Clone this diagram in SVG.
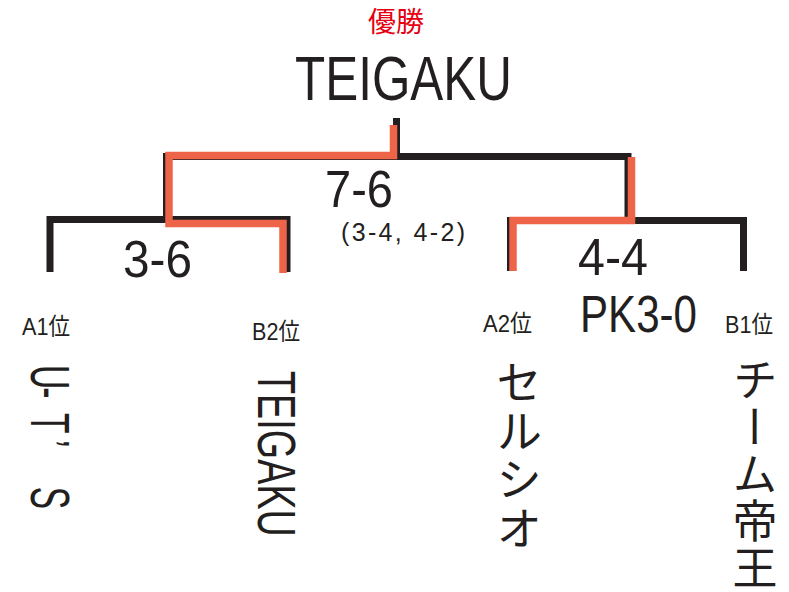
<svg xmlns="http://www.w3.org/2000/svg" width="789" height="592" viewBox="0 0 789 592">
<style>
.lat{font-family:"Liberation Sans","Noto Sans CJK JP",Arial,sans-serif;fill:#231f20}
.cjk{font-family:"Noto Sans CJK JP","Noto Sans CJK SC",sans-serif;fill:#231f20}
.blk{fill:none;stroke:#231f20;stroke-width:7;stroke-linejoin:miter;stroke-linecap:butt}
.org{fill:none;stroke:#ee6449;stroke-width:7.5;stroke-linejoin:miter;stroke-linecap:butt}
.vert{writing-mode:vertical-rl;text-orientation:upright}
</style>
<rect width="789" height="592" fill="#ffffff"/>
<g id="connectors">
  <path class="blk" d="M50,272 V219.5 H287 V272"/>
  <path class="blk" d="M510.5,271 V220.5 H743.5 V271"/>
  <path class="blk" d="M166.5,220 V156.5 H628 V221"/>
  <path class="blk" d="M396.5,118 V157"/>
  <path class="org" d="M283,273 V223.5 H169 V155.5 H393.5 V125"/>
  <path class="org" d="M513,271 V220.5 H631.5 V157"/>
</g>
<g id="champion">
  <text x="396" y="32" text-anchor="middle" class="cjk" style="fill:#e60012" font-size="28">優勝</text>
  <text x="295" y="100" class="lat" font-size="63" textLength="217" lengthAdjust="spacingAndGlyphs">TEIGAKU</text>
</g>
<g id="score-final">
  <text x="325" y="207" class="lat" font-size="52" textLength="68" lengthAdjust="spacingAndGlyphs">7-6</text>
  <text x="341" y="241" class="lat" font-size="25" textLength="124" lengthAdjust="spacing">(3-4, 4-2)</text>
</g>
<g id="score-left">
  <text x="123" y="277" class="lat" font-size="52" textLength="69" lengthAdjust="spacingAndGlyphs">3-6</text>
</g>
<g id="score-right">
  <text x="578" y="275" class="lat" font-size="52" textLength="70" lengthAdjust="spacingAndGlyphs">4-4</text>
  <text x="580" y="332" class="lat" font-size="52" textLength="117" lengthAdjust="spacingAndGlyphs">PK3-0</text>
</g>
<g id="team-a1">
  <text x="22" y="335" class="lat" font-size="24" textLength="48" lengthAdjust="spacingAndGlyphs">A1位</text>
  <text transform="translate(31,365) rotate(90) scale(0.6,1)" class="lat" font-size="56" x="0 37 80 125 160 203">U-T’ S</text>
</g>
<g id="team-b2">
  <text x="252" y="340" class="lat" font-size="24" textLength="48" lengthAdjust="spacingAndGlyphs">B2位</text>
  <text transform="translate(258,371) rotate(90) scale(0.7,1)" class="lat" font-size="54">TEIGAKU</text>
</g>
<g id="team-a2">
  <text x="483" y="332" class="lat" font-size="24" textLength="49" lengthAdjust="spacingAndGlyphs">A2位</text>
  <text x="519" y="359" class="cjk vert" font-size="46" letter-spacing="2.5">セルシオ</text>
</g>
<g id="team-b1">
  <text x="725" y="333" class="lat" font-size="24" textLength="48" lengthAdjust="spacingAndGlyphs">B1位</text>
  <text x="755" y="357" class="cjk vert" font-size="45" letter-spacing="2">チーム帝王</text>
</g>
</svg>
